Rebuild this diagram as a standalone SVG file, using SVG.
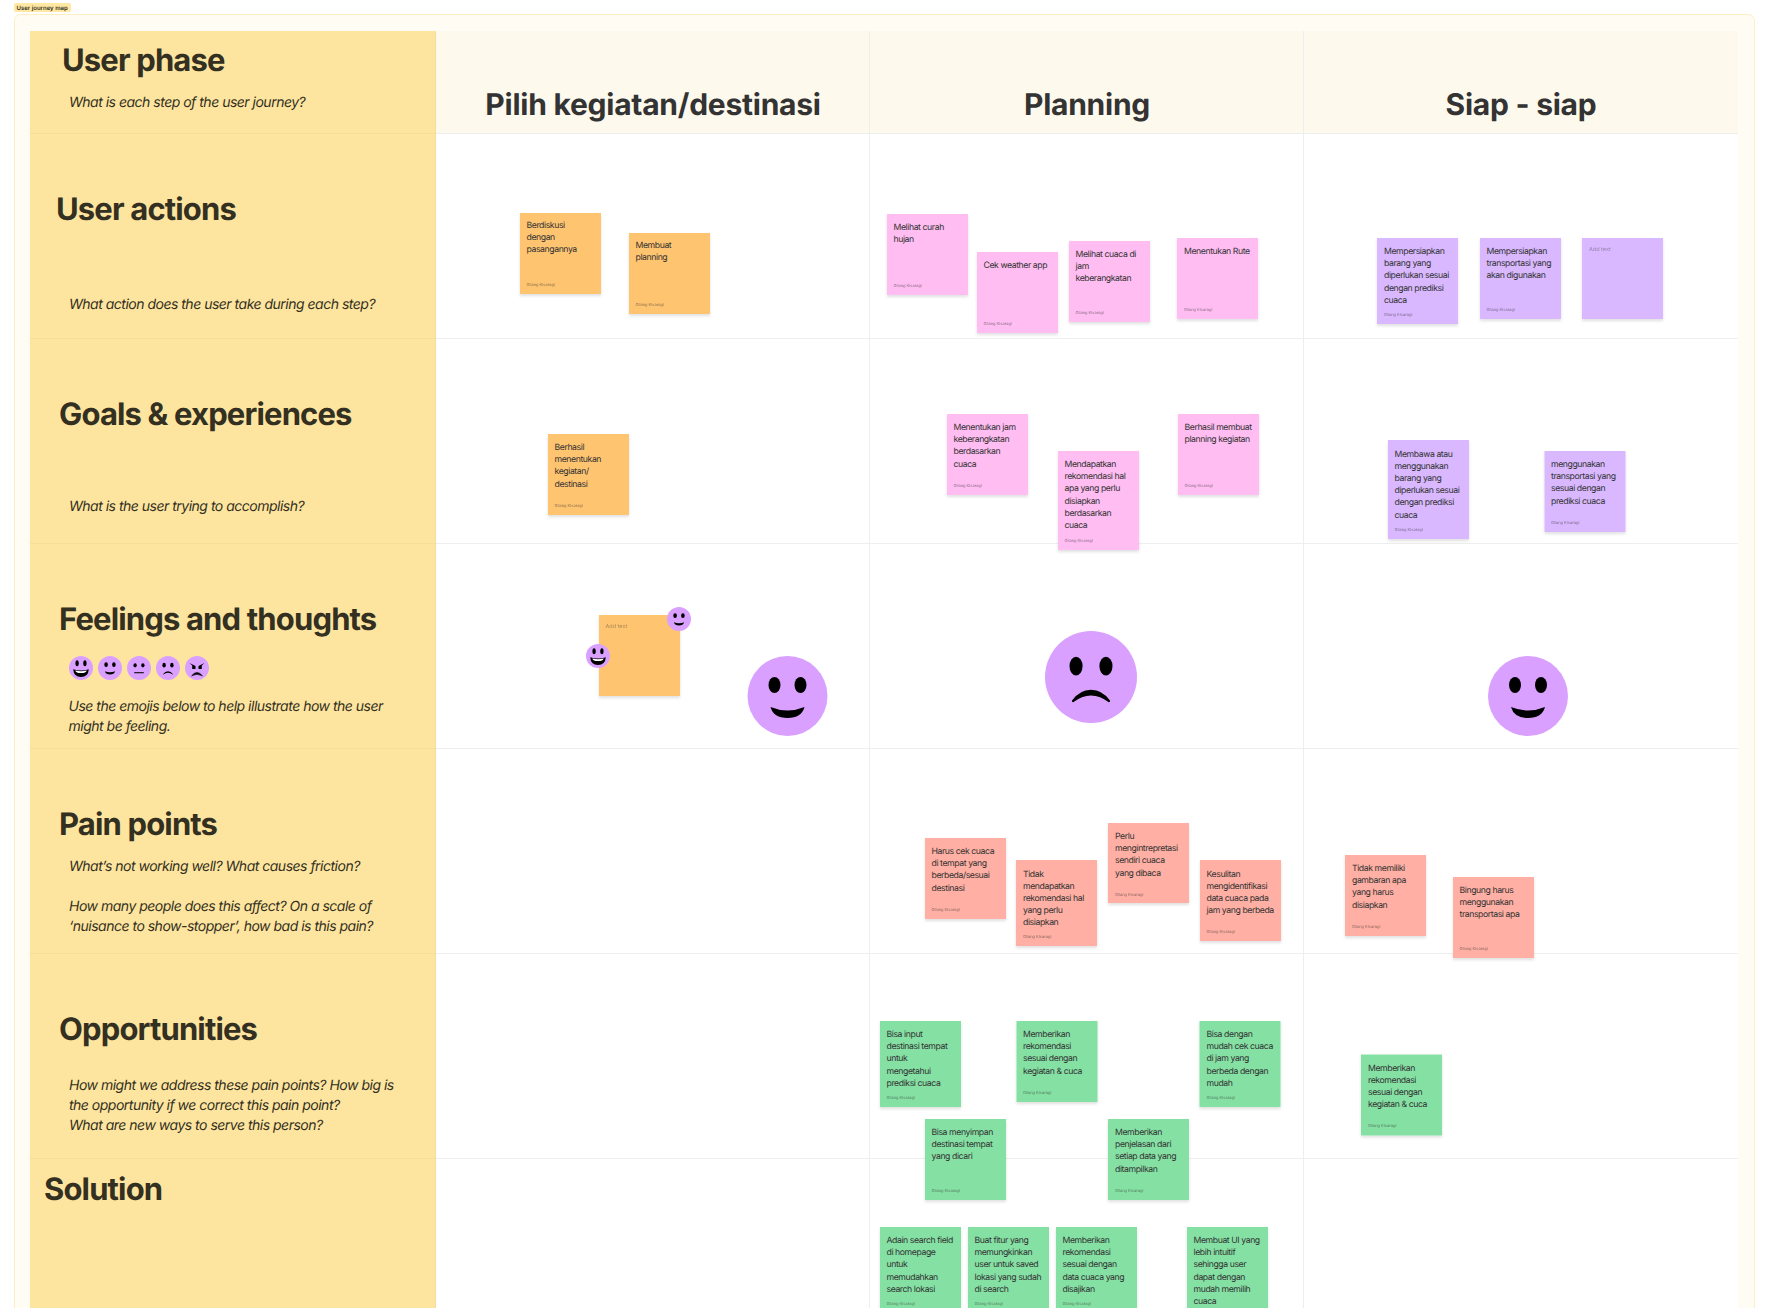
<svg xmlns="http://www.w3.org/2000/svg" width="1768" height="1308" viewBox="0 0 1768 1308">
<style>
text{font-family:Inter,"Noto Sans","Liberation Sans",sans-serif;fill:#333022;text-rendering:geometricPrecision}
.h{font-size:31px;font-weight:700;letter-spacing:-.85px}
.c{font-size:30px;font-weight:700;text-anchor:middle;fill:#333333;letter-spacing:-.25px}
.i{font-size:14px;font-style:italic;letter-spacing:-.5px}
.t{font-size:8.700px;fill:#333333;letter-spacing:-.42px}
.a{font-size:4px;fill:#2b2b2b;opacity:.55}
.p{font-size:5.500px;fill:#2b2b2b;opacity:.4}
.s{filter:url(#sh)}
.o{fill:#FFC470}.k{fill:#FFBDF2}.v{fill:#D9B8FF}.r{fill:#FFAFA3}.g{fill:#85E0A3}
.l{stroke:#EEEEEE;stroke-width:1;fill:none}
.ly{stroke:#F3DE9A;stroke-width:1;fill:none}
.f{fill:#DAA0FF}
</style>
<defs>
<filter id="sh" x="-10%" y="-10%" width="120%" height="120%"><feDropShadow dx="0" dy="2" stdDeviation="1.500" flood-color="#000" flood-opacity=".12"/></filter>
<symbol id="smile" viewBox="-40 -40 80 80" overflow="visible"><circle class="f" r="40"/><ellipse cx="-13" cy="-11" rx="6" ry="8"/><ellipse cx="13" cy="-11" rx="6" ry="8"/><path d="M-17 11Q0 18 17 11Q14 22 0 22Q-14 22-17 11Z"/></symbol>
<symbol id="sad" viewBox="-40 -40 80 80" overflow="visible"><circle class="f" r="40"/><ellipse cx="-13" cy="-9.500" rx="5.700" ry="8.200"/><ellipse cx="13" cy="-9.500" rx="5.700" ry="8.200"/><path d="M-16.500 20.500Q-10 11 0 11Q10 11 16.500 20.500Q17 22 15.500 22Q8 16 0 16Q-8 16-15.500 22Q-17 22-16.500 20.500Z"/></symbol>
<symbol id="laugh" viewBox="-40 -40 80 80" overflow="visible"><circle class="f" r="40"/><ellipse cx="-13" cy="-16" rx="5.500" ry="10"/><ellipse cx="13" cy="-16" rx="5.500" ry="10"/><path d="M-26 4Q0 12 26 4Q24 30 0 30Q-24 30-26 4Z"/><path d="M-19 8Q0 13 19 8Q17 17 0 17Q-17 17-19 8Z" fill="#fff"/></symbol>
<symbol id="neutral" viewBox="-40 -40 80 80" overflow="visible"><circle class="f" r="40"/><ellipse cx="-13" cy="-9" rx="5.500" ry="7"/><ellipse cx="13" cy="-9" rx="5.500" ry="7"/><rect x="-16" y="14" width="32" height="3.500"/></symbol>
<symbol id="angry" viewBox="-40 -40 80 80" overflow="visible"><circle class="f" r="40"/><path d="M-25-17L-5-7V3H-16V-8ZM25-17L5-7V3H16V-8Z"/><path d="M-18 26Q0 4 18 26Q0 16-18 26Z" stroke="#000" stroke-width="2"/></symbol>
</defs>
<rect width="1768" height="1308" fill="#fff"/>
<g id="frame">
<rect x="14.500" y="14.500" width="1740" height="1320" rx="6" fill="#FFFDF3" stroke="#FFEFC0"/>
<rect x="30" y="31" width="1708" height="1290" fill="#fff"/>
<rect x="436" y="31" width="1302" height="103" fill="#FDF9EC"/>
<rect x="30" y="31" width="406" height="1290" fill="#FEE59F"/>
<path class="l" d="M436 133.500H1738M436 338.500H1738M436 543.500H1738M436 748.500H1738M436 953.500H1738M436 1158.500H1738M869.500 31V1321M1303.500 31V1321"/>
<path class="ly" d="M30 133.500H436M30 338.500H436M30 543.500H436M30 748.500H436M30 953.500H436M30 1158.500H436M435.500 31V1321"/>
<rect x="14" y="3" width="57" height="9" rx="2" fill="#FFE8A3"/>
<text x="16.500" y="10" style="font-size:6px;font-weight:600">User journey map</text>
</g>
<g id="row-labels">
<text class="h" x="62" y="70.500">User phase</text>
<text class="i" x="69" y="107">What is each step of the user journey?</text>
<text class="h" x="56" y="219.500">User actions</text>
<text class="i" x="69" y="309">What action does the user take during each step?</text>
<text class="h" x="59" y="424.500">Goals &amp; experiences</text>
<text class="i" x="69" y="511">What is the user trying to accomplish?</text>
<text class="h" x="59" y="629.500">Feelings and thoughts</text>
<text class="i" x="68.500" y="711">Use the emojis below to help illustrate how the user</text>
<text class="i" x="68.500" y="731">might be feeling.</text>
<text class="h" x="59" y="834.500">Pain points</text>
<text class="i" x="69" y="870.500">What’s not working well? What causes friction?</text>
<text class="i" x="69" y="911">How many people does this affect? On a scale of</text>
<text class="i" x="69" y="931">‘nuisance to show-stopper’, how bad is this pain?</text>
<text class="h" x="59" y="1039.500">Opportunities</text>
<text class="i" x="69" y="1090">How might we address these pain points? How big is</text>
<text class="i" x="69" y="1110">the opportunity if we correct this pain point?</text>
<text class="i" x="69" y="1130">What are new ways to serve this person?</text>
<text class="h" x="44" y="1200">Solution</text>
</g>
<g id="phases">
<text class="c" x="653" y="115">Pilih kegiatan/destinasi</text>
<text class="c" x="1087" y="115">Planning</text>
<text class="c" x="1521" y="115">Siap - siap</text>
</g>
<g id="sticky-1"><rect class="s o" x="520" y="213" width="81" height="81"/><text class="t" x="526.500" y="228"><tspan x="526.500">Berdiskusi</tspan><tspan x="526.500" dy="12.200">dengan</tspan><tspan x="526.500" dy="12.200">pasangannya</tspan></text><text class="a" x="526.500" y="285.500">Gilang Kisaragi</text></g>
<g id="sticky-2"><rect class="s o" x="629" y="233" width="81" height="81"/><text class="t" x="635.500" y="248"><tspan x="635.500">Membuat</tspan><tspan x="635.500" dy="12.200">planning</tspan></text><text class="a" x="635.500" y="305.500">Gilang Kisaragi</text></g>
<g id="sticky-3"><rect class="s k" x="887" y="214" width="81" height="81"/><text class="t" x="893.500" y="230"><tspan x="893.500">Melihat curah</tspan><tspan x="893.500" dy="12.200">hujan</tspan></text><text class="a" x="893.500" y="286.500">Gilang Kisaragi</text></g>
<g id="sticky-4"><rect class="s k" x="977" y="252" width="81" height="81"/><text class="t" x="983.500" y="268">Cek weather app</text><text class="a" x="983.500" y="324.500">Gilang Kisaragi</text></g>
<g id="sticky-5"><rect class="s k" x="1069" y="241" width="81" height="81"/><text class="t" x="1075.500" y="257"><tspan x="1075.500">Melihat cuaca di</tspan><tspan x="1075.500" dy="12.200">jam</tspan><tspan x="1075.500" dy="12.200">keberangkatan</tspan></text><text class="a" x="1075.500" y="313.500">Gilang Kisaragi</text></g>
<g id="sticky-6"><rect class="s k" x="1177" y="238" width="81" height="81"/><text class="t" x="1184" y="254">Menentukan Rute</text><text class="a" x="1184" y="310.500">Gilang Kisaragi</text></g>
<g id="sticky-7"><rect class="s v" x="1377" y="238" width="81" height="86"/><text class="t" x="1384" y="254"><tspan x="1384">Mempersiapkan</tspan><tspan x="1384" dy="12.200">barang yang</tspan><tspan x="1384" dy="12.200">diperlukan sesuai</tspan><tspan x="1384" dy="12.200">dengan prediksi</tspan><tspan x="1384" dy="12.200">cuaca</tspan></text><text class="a" x="1384" y="316">Gilang Kisaragi</text></g>
<g id="sticky-8"><rect class="s v" x="1480" y="238" width="81" height="81"/><text class="t" x="1486.500" y="254"><tspan x="1486.500">Mempersiapkan</tspan><tspan x="1486.500" dy="12.200">transportasi yang</tspan><tspan x="1486.500" dy="12.200">akan digunakan</tspan></text><text class="a" x="1486.500" y="310.500">Gilang Kisaragi</text></g>
<g id="sticky-9"><rect class="s v" x="1582" y="238" width="81" height="81"/><text class="p" x="1589" y="251">Add text</text></g>
<g id="sticky-10"><rect class="s o" x="548" y="434" width="81" height="81"/><text class="t" x="554.500" y="450"><tspan x="554.500">Berhasil</tspan><tspan x="554.500" dy="12.200">menentukan</tspan><tspan x="554.500" dy="12.200">kegiatan/</tspan><tspan x="554.500" dy="12.200">destinasi</tspan></text><text class="a" x="554.500" y="506.500">Gilang Kisaragi</text></g>
<g id="sticky-11"><rect class="s k" x="947" y="414" width="81" height="81"/><text class="t" x="953.500" y="430"><tspan x="953.500">Menentukan jam</tspan><tspan x="953.500" dy="12.200">keberangkatan</tspan><tspan x="953.500" dy="12.200">berdasarkan</tspan><tspan x="953.500" dy="12.200">cuaca</tspan></text><text class="a" x="953.500" y="486.500">Gilang Kisaragi</text></g>
<g id="sticky-12"><rect class="s k" x="1058" y="451" width="81" height="99"/><text class="t" x="1064.500" y="467"><tspan x="1064.500">Mendapatkan</tspan><tspan x="1064.500" dy="12.200">rekomendasi hal</tspan><tspan x="1064.500" dy="12.200">apa yang perlu</tspan><tspan x="1064.500" dy="12.200">disiapkan</tspan><tspan x="1064.500" dy="12.200">berdasarkan</tspan><tspan x="1064.500" dy="12.200">cuaca</tspan></text><text class="a" x="1064.500" y="541.500">Gilang Kisaragi</text></g>
<g id="sticky-13"><rect class="s k" x="1178" y="414" width="81" height="81"/><text class="t" x="1184.500" y="430"><tspan x="1184.500">Berhasil membuat</tspan><tspan x="1184.500" dy="12.200">planning kegiatan</tspan></text><text class="a" x="1184.500" y="486.500">Gilang Kisaragi</text></g>
<g id="sticky-14"><rect class="s v" x="1388" y="440" width="81" height="99"/><text class="t" x="1394.500" y="456.500"><tspan x="1394.500">Membawa atau</tspan><tspan x="1394.500" dy="12.200">menggunakan</tspan><tspan x="1394.500" dy="12.200">barang yang</tspan><tspan x="1394.500" dy="12.200">diperlukan sesuai</tspan><tspan x="1394.500" dy="12.200">dengan prediksi</tspan><tspan x="1394.500" dy="12.200">cuaca</tspan></text><text class="a" x="1394.500" y="530.500">Gilang Kisaragi</text></g>
<g id="sticky-15"><rect class="s v" x="1544.500" y="451" width="81" height="81"/><text class="t" x="1551" y="467"><tspan x="1551">menggunakan</tspan><tspan x="1551" dy="12.200">transportasi yang</tspan><tspan x="1551" dy="12.200">sesuai dengan</tspan><tspan x="1551" dy="12.200">prediksi cuaca</tspan></text><text class="a" x="1551" y="523.500">Gilang Kisaragi</text></g>
<g id="sticky-16"><rect class="s o" x="599" y="615" width="81" height="81"/><text class="p" x="605.500" y="628">Add text</text></g>
<g id="sticky-17"><rect class="s r" x="925" y="838" width="81" height="81"/><text class="t" x="931.500" y="854"><tspan x="931.500">Harus cek cuaca</tspan><tspan x="931.500" dy="12.200">di tempat yang</tspan><tspan x="931.500" dy="12.200">berbeda/sesuai</tspan><tspan x="931.500" dy="12.200">destinasi</tspan></text><text class="a" x="931.500" y="910.500">Gilang Kisaragi</text></g>
<g id="sticky-18"><rect class="s r" x="1016" y="860" width="81" height="86"/><text class="t" x="1023" y="876.500"><tspan x="1023">Tidak</tspan><tspan x="1023" dy="12.200">mendapatkan</tspan><tspan x="1023" dy="12.200">rekomendasi hal</tspan><tspan x="1023" dy="12.200">yang perlu</tspan><tspan x="1023" dy="12.200">disiapkan</tspan></text><text class="a" x="1023" y="938">Gilang Kisaragi</text></g>
<g id="sticky-19"><rect class="s r" x="1108" y="823" width="81" height="80"/><text class="t" x="1115" y="839"><tspan x="1115">Perlu</tspan><tspan x="1115" dy="12.200">mengintrepretasi</tspan><tspan x="1115" dy="12.200">sendiri cuaca</tspan><tspan x="1115" dy="12.200">yang dibaca</tspan></text><text class="a" x="1115" y="895.500">Gilang Kisaragi</text></g>
<g id="sticky-20"><rect class="s r" x="1200" y="860" width="81" height="81"/><text class="t" x="1206.500" y="876.500"><tspan x="1206.500">Kesulitan</tspan><tspan x="1206.500" dy="12.200">mengidentifikasi</tspan><tspan x="1206.500" dy="12.200">data cuaca pada</tspan><tspan x="1206.500" dy="12.200">jam yang berbeda</tspan></text><text class="a" x="1206.500" y="933">Gilang Kisaragi</text></g>
<g id="sticky-21"><rect class="s r" x="1345" y="855" width="81" height="81"/><text class="t" x="1352" y="871"><tspan x="1352">Tidak memiliki</tspan><tspan x="1352" dy="12.200">gambaran apa</tspan><tspan x="1352" dy="12.200">yang harus</tspan><tspan x="1352" dy="12.200">disiapkan</tspan></text><text class="a" x="1352" y="928">Gilang Kisaragi</text></g>
<g id="sticky-22"><rect class="s r" x="1453" y="877" width="81" height="81"/><text class="t" x="1459.500" y="893"><tspan x="1459.500">Bingung harus</tspan><tspan x="1459.500" dy="12.200">menggunakan</tspan><tspan x="1459.500" dy="12.200">transportasi apa</tspan></text><text class="a" x="1459.500" y="949.500">Gilang Kisaragi</text></g>
<g id="sticky-23"><rect class="s g" x="880" y="1021" width="81" height="86"/><text class="t" x="886.500" y="1037"><tspan x="886.500">Bisa input</tspan><tspan x="886.500" dy="12.200">destinasi tempat</tspan><tspan x="886.500" dy="12.200">untuk</tspan><tspan x="886.500" dy="12.200">mengetahui</tspan><tspan x="886.500" dy="12.200">prediksi cuaca</tspan></text><text class="a" x="886.500" y="1099">Gilang Kisaragi</text></g>
<g id="sticky-24"><rect class="s g" x="1016.500" y="1021" width="81" height="81"/><text class="t" x="1023" y="1037"><tspan x="1023">Memberikan</tspan><tspan x="1023" dy="12.200">rekomendasi</tspan><tspan x="1023" dy="12.200">sesuai dengan</tspan><tspan x="1023" dy="12.200">kegiatan &amp; cuca</tspan></text><text class="a" x="1023" y="1094">Gilang Kisaragi</text></g>
<g id="sticky-25"><rect class="s g" x="1199.500" y="1021" width="81" height="86"/><text class="t" x="1206.500" y="1037"><tspan x="1206.500">Bisa dengan</tspan><tspan x="1206.500" dy="12.200">mudah cek cuaca</tspan><tspan x="1206.500" dy="12.200">di jam yang</tspan><tspan x="1206.500" dy="12.200">berbeda dengan</tspan><tspan x="1206.500" dy="12.200">mudah</tspan></text><text class="a" x="1206.500" y="1099">Gilang Kisaragi</text></g>
<g id="sticky-26"><rect class="s g" x="1361" y="1054.500" width="81" height="81"/><text class="t" x="1368" y="1070.500"><tspan x="1368">Memberikan</tspan><tspan x="1368" dy="12.200">rekomendasi</tspan><tspan x="1368" dy="12.200">sesuai dengan</tspan><tspan x="1368" dy="12.200">kegiatan &amp; cuca</tspan></text><text class="a" x="1368" y="1127">Gilang Kisaragi</text></g>
<g id="sticky-27"><rect class="s g" x="925" y="1119" width="81" height="81"/><text class="t" x="931.500" y="1135"><tspan x="931.500">Bisa menyimpan</tspan><tspan x="931.500" dy="12.200">destinasi tempat</tspan><tspan x="931.500" dy="12.200">yang dicari</tspan></text><text class="a" x="931.500" y="1191.500">Gilang Kisaragi</text></g>
<g id="sticky-28"><rect class="s g" x="1108" y="1119" width="81" height="81"/><text class="t" x="1115" y="1135"><tspan x="1115">Memberikan</tspan><tspan x="1115" dy="12.200">penjelasan dari</tspan><tspan x="1115" dy="12.200">setiap data yang</tspan><tspan x="1115" dy="12.200">ditampilkan</tspan></text><text class="a" x="1115" y="1191.500">Gilang Kisaragi</text></g>
<g id="sticky-29"><rect class="s g" x="880" y="1227" width="81" height="86"/><text class="t" x="886.500" y="1243"><tspan x="886.500">Adain search field</tspan><tspan x="886.500" dy="12.200">di homepage</tspan><tspan x="886.500" dy="12.200">untuk</tspan><tspan x="886.500" dy="12.200">memudahkan</tspan><tspan x="886.500" dy="12.200">search lokasi</tspan></text><text class="a" x="886.500" y="1305">Gilang Kisaragi</text></g>
<g id="sticky-30"><rect class="s g" x="968" y="1227" width="81" height="86"/><text class="t" x="974.500" y="1243"><tspan x="974.500">Buat fitur yang</tspan><tspan x="974.500" dy="12.200">memungkinkan</tspan><tspan x="974.500" dy="12.200">user untuk saved</tspan><tspan x="974.500" dy="12.200">lokasi yang sudah</tspan><tspan x="974.500" dy="12.200">di search</tspan></text><text class="a" x="974.500" y="1305">Gilang Kisaragi</text></g>
<g id="sticky-31"><rect class="s g" x="1056" y="1227" width="81" height="86"/><text class="t" x="1062.500" y="1243"><tspan x="1062.500">Memberikan</tspan><tspan x="1062.500" dy="12.200">rekomendasi</tspan><tspan x="1062.500" dy="12.200">sesuai dengan</tspan><tspan x="1062.500" dy="12.200">data cuaca yang</tspan><tspan x="1062.500" dy="12.200">disajikan</tspan></text><text class="a" x="1062.500" y="1305">Gilang Kisaragi</text></g>
<g id="sticky-32"><rect class="s g" x="1187" y="1227" width="81" height="98"/><text class="t" x="1193.500" y="1243"><tspan x="1193.500">Membuat UI yang</tspan><tspan x="1193.500" dy="12.200">lebih intuitif</tspan><tspan x="1193.500" dy="12.200">sehingga user</tspan><tspan x="1193.500" dy="12.200">dapat dengan</tspan><tspan x="1193.500" dy="12.200">mudah memilih</tspan><tspan x="1193.500" dy="12.200">cuaca</tspan></text></g>
<g id="emoji-legend">
<use href="#laugh" x="69" y="656" width="24" height="24"/>
<use href="#smile" x="98" y="656" width="24" height="24"/>
<use href="#neutral" x="127" y="656" width="24" height="24"/>
<use href="#sad" x="156" y="656" width="24" height="24"/>
<use href="#angry" x="185" y="656" width="24" height="24"/>
</g>
<g id="emoji-small-1"><use href="#smile" x="667" y="607" width="24" height="24"/></g>
<g id="emoji-small-2"><use href="#laugh" x="586" y="644" width="24" height="24"/></g>
<g id="emoji-big-1"><use href="#smile" x="747.500" y="656" width="80" height="80"/></g>
<g id="emoji-big-2"><use href="#sad" x="1045" y="631" width="92" height="92"/></g>
<g id="emoji-big-3"><use href="#smile" x="1488" y="656" width="80" height="80"/></g>
</svg>
